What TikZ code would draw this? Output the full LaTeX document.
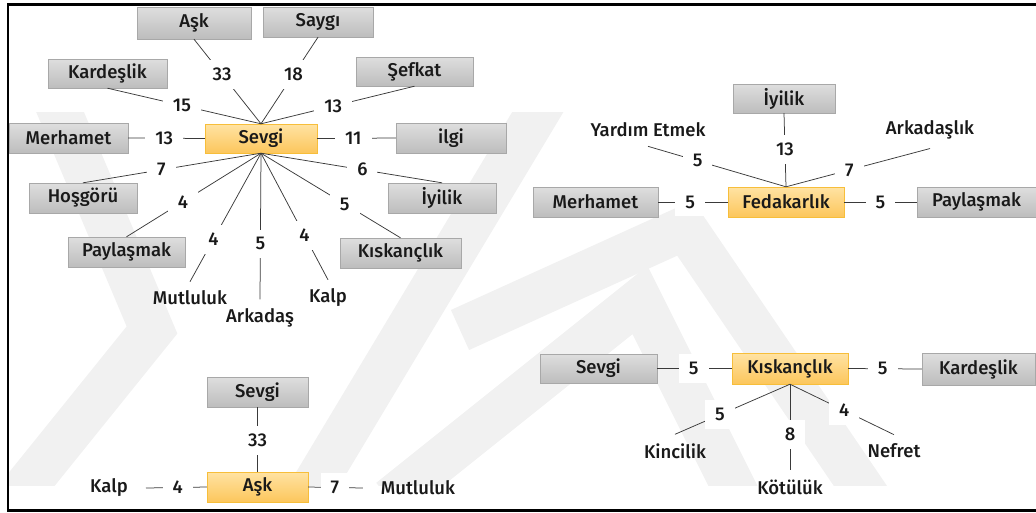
\documentclass[tikz,border=0pt]{standalone}
\usepackage{fontspec}
\setmainfont{Fira Sans}[UprightFont={* Medium}]
\definecolor{greytop}{HTML}{DEDEDE}
\definecolor{greybot}{HTML}{BDBDBD}
\definecolor{greyedge}{HTML}{A8A8A8}
\definecolor{goldtop}{HTML}{FFE3A3}
\definecolor{goldbot}{HTML}{FCC65C}
\definecolor{goldedge}{HTML}{F7BE3A}
\definecolor{linkcol}{HTML}{3A3A3A}
\definecolor{markcol}{HTML}{F1F1F1}
\begin{document}
\begin{tikzpicture}[x=1pt,y=-1pt,
  every node/.style={font=\fontsize{18.5}{20}\selectfont, text=black!90},
  gbox/.style={draw=greyedge, top color=greytop, bottom color=greybot,
    minimum height=30pt, inner sep=0pt},
  obox/.style={draw=goldedge, top color=goldtop, bottom color=goldbot,
    minimum height=30pt, inner sep=0pt},
  word/.style={inner xsep=18pt, inner ysep=9pt},
  num/.style={fill=white, inner xsep=10pt, inner ysep=8pt},
  link/.style={draw=linkcol, line width=0.75pt},
  band/.style={draw=markcol, line width=44pt, line join=miter, line cap=butt}]

\useasboundingbox (0,0) rectangle (1036,512);

% faint background emblem
\begin{scope}
  \clip (9,112) rectangle (1036,485);
  \draw[band] (55,100) -- (152,330) -- (15,500);
  \draw[band] (305,500) -- (545,100);
  \draw[band] (390,500) -- (640,300) -- (740,500);
  \draw[band] (460,330) -- (685,228) -- (870,500);
\end{scope}

% frame
\draw[line width=2.4pt] (1036,4.5) -- (8,4.5) -- (8,510.5) -- (1036,510.5);

% ---------- Sevgi cluster ----------
\node[obox, minimum width=112pt, minimum height=29pt] (sv) at (261,138.5) {Sevgi};
\node[gbox, minimum width=114pt, minimum height=32pt] (sask) at (194,23) {Aşk};
\node[gbox, minimum width=110pt] (ssay) at (318,22) {Saygı};
\node[gbox, minimum width=119pt, minimum height=29pt] (skar) at (107.5,73.5) {Kardeşlik};
\node[gbox, minimum width=117pt, minimum height=29pt] (ssef) at (414.5,71.5) {Şefkat};
\node[gbox, minimum width=119pt] (smer) at (68.5,138) {Merhamet};
\node[gbox, minimum width=110pt] (silg) at (451,138) {ilgi};
\node[gbox, minimum width=108pt] (shos) at (83,198) {Hoşgörü};
\node[gbox, minimum width=108pt] (siyi) at (442,198) {İyilik};
\node[gbox, minimum width=117pt] (spay) at (126.5,252) {Paylaşmak};
\node[gbox, minimum width=121pt] (skis) at (400.5,253) {Kıskançlık};
\node[word] (smut) at (190,298) {Mutluluk};
\node[word] (sark) at (260,318) {Arkadaş};
\node[word] (skal) at (328,298) {Kalp};

\draw[link] (sask.south) -- node[num, pos=0.42] {33} (sv.north);
\draw[link] (ssay.south) -- node[num, pos=0.43] {18} (sv.north);
\draw[link] (skar.south) -- node[num, pos=0.485] {15} (sv.north);
\draw[link] (ssef.south) -- node[num, pos=0.53] {13} (sv.north);
\draw[link] (smer.east) -- node[num, pos=0.47] {13} (sv.west);
\draw[link] (sv.east) -- node[num, pos=0.46] {11} (silg.west);
\draw[link] (sv.south) -- node[num, pos=0.56] {7} (shos.north);
\draw[link] (sv.south) -- node[num, pos=0.56] {6} (siyi.north);
\draw[link] (sv.south) -- node[num, pos=0.58] {4} (spay.north);
\draw[link] (sv.south) -- node[num, pos=0.6] {5} (skis.north);
\draw[link] (sv.south) -- node[num, pos=0.67] {4} (smut.north);
\draw[link] (sv.south) -- node[num, pos=0.62] {5} (sark.north);
\draw[link] (sv.south) -- node[num, pos=0.65] {4} (skal.north);

% ---------- Fedakarlık cluster ----------
\node[obox, minimum width=116pt] (fd) at (786,202) {Fedakarlık};
\node[gbox, minimum width=102pt, minimum height=29pt] (fiyi) at (784,98.5) {İyilik};
\node[gbox, minimum width=125pt] (fmer) at (595.5,202) {Merhamet};
\node[gbox, minimum width=119pt] (fpay) at (976.5,202) {Paylaşmak};
\node[word] (fyar) at (648,130) {Yardım Etmek};
\node[word] (fark) at (930,130) {Arkadaşlık};

\draw[link] (fiyi.south) -- node[num, pos=0.49] {13} (fd.north);
\draw[link] (fyar.south) -- node[num, pos=0.36] {5} (fd.north);
\draw[link] (fark.south) -- node[num, pos=0.56] {7} (fd.north);
\draw[link] (fmer.east) -- node[num, pos=0.46] {5} (fd.west);
\draw[link] (fd.east) -- node[num, pos=0.5] {5} (fpay.west);

% ---------- Kıskançlık cluster ----------
\node[obox, minimum width=116pt, minimum height=31pt] (kk) at (790,368.5) {Kıskançlık};
\node[gbox, minimum width=117pt, minimum height=29pt] (ksev) at (598.5,368.5) {Sevgi};
\node[gbox, minimum width=113pt, minimum height=32pt] (kkar) at (978.5,369) {Kardeşlik};
\node[word] (kkin) at (675,451) {Kincilik};
\node[word] (kkot) at (790,487) {Kötülük};
\node[word] (knef) at (894,451) {Nefret};

\draw[link] (ksev.east) -- node[num, pos=0.49] {5} (kk.west);
\draw[link] (kk.east) -- node[num, pos=0.47] {5} (kkar.west);
\draw[link] (kk.south) -- node[num, pos=0.61] {5} (kkin.north);
\draw[link] (kk.south) -- node[num, pos=0.58] {8} (kkot.north);
\draw[link] (kk.south) -- node[num, pos=0.52] {4} (knef.north);

% ---------- Aşk cluster ----------
\node[obox, minimum width=101pt] (ak) at (257.5,487) {Aşk};
\node[gbox, minimum width=101pt] (asev) at (257.5,392) {Sevgi};
\node[word] (akal) at (109,488) {Kalp};
\node[word] (amut) at (418,488) {Mutluluk};

\draw[link] (asev.south) -- node[num, pos=0.51] {33} (ak.north);
\draw[link] (akal.east) -- node[num, pos=0.52] {4} (ak.west);
\draw[link] (ak.east) -- node[num, pos=0.49] {7} (amut.west);

\end{tikzpicture}
\end{document}
